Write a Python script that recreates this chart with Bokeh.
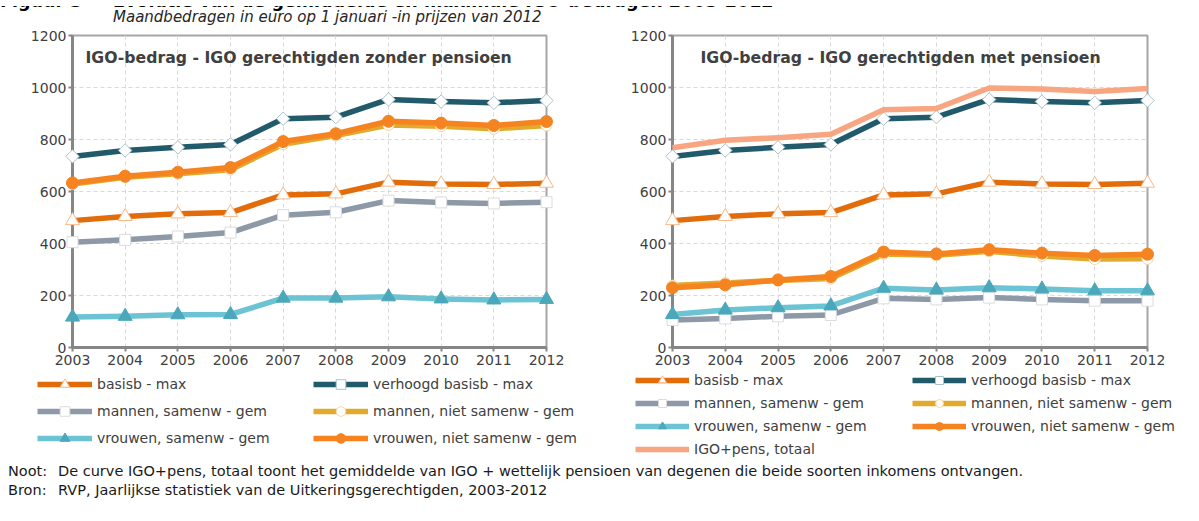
import math
from bokeh.plotting import figure
from bokeh.models import Legend, LegendItem, Label, Div, Range1d
from bokeh.layouts import column, row
from bokeh.embed import file_html
from bokeh.resources import INLINE

# ---------------- data ----------------
years = [2003, 2004, 2005, 2006, 2007, 2008, 2009, 2010, 2011, 2012]
y_ticks = [0, 200, 400, 600, 800, 1000, 1200]

basisb_max = [488, 504, 514, 519, 587, 591, 636, 629, 627, 632]
verhoogd_max = [735, 758, 770, 781, 880, 886, 954, 946, 941, 950]

# zonder pensioen
mannen_sam_z = [405, 414, 427, 442, 509, 520, 565, 558, 554, 559]
mannen_niet_z = [629, 655, 668, 684, 782, 815, 856, 851, 841, 854]
vrouwen_sam_z = [117, 120, 126, 127, 190, 190, 195, 187, 183, 185]
vrouwen_niet_z = [633, 659, 674, 692, 792, 822, 870, 863, 854, 869]

# met pensioen
mannen_sam_m = [106, 112, 120, 125, 189, 185, 192, 185, 180, 180]
mannen_niet_m = [238, 248, 258, 265, 360, 355, 370, 352, 340, 341]
vrouwen_sam_m = [127, 144, 153, 160, 228, 221, 230, 225, 218, 218]
vrouwen_niet_m = [230, 241, 260, 273, 367, 360, 376, 363, 354, 359]
igo_pens = [768, 797, 807, 820, 914, 919, 998, 994, 985, 996]

labels = ["basisb - max", "verhoogd basisb - max", "mannen, samenw - gem",
          "mannen, niet samenw - gem", "vrouwen, samenw - gem",
          "vrouwen, niet samenw - gem", "IGO+pens, totaal"]

fig_number = "Figuur 3"
fig_title = "Evolutie van de gemiddelde en maximale IGO-bedragen 2003-2012"
title_left = "IGO-bedrag - IGO gerechtigden zonder pensioen"
title_right = "IGO-bedrag - IGO gerechtigden met pensioen"
subtitle = "Maandbedragen in euro op 1 januari -in prijzen van 2012"
note_noot = "De curve IGO+pens, totaal toont het gemiddelde van IGO + wettelijk pensioen van degenen die beide soorten inkomens ontvangen."
note_bron = "RVP, Jaarlijkse statistiek van de Uitkeringsgerechtigden, 2003-2012"

# ---------------- styles ----------------
FONT = "DejaVu Sans"
TXT = "#404040"
STYLE = {
    "basisb - max": dict(line="#e36c0a", marker="triangle", size=14, angle=0, fill="#ffffff", outline="#f6b98a"),
    "verhoogd basisb - max": dict(line="#215a6a", marker="square", size=9.5, angle=math.pi / 4, fill="#ffffff", outline="#a9c3cc"),
    "mannen, samenw - gem": dict(line="#8d99a7", marker="square", size=11, angle=0, fill="#ffffff", outline="#dcdcdc"),
    "mannen, niet samenw - gem": dict(line="#e2aa2d", marker="circle", size=11, angle=0, fill="#ffffff", outline="#f3d9a0"),
    "vrouwen, samenw - gem": dict(line="#6cc3d3", marker="triangle", size=14, angle=0, fill="#4ba8bb", outline="#4ba8bb"),
    "vrouwen, niet samenw - gem": dict(line="#f58320", marker="circle", size=12, angle=0, fill="#f58320", outline="#f58320"),
    "IGO+pens, totaal": dict(line="#f8a582", marker=None),
}


def add_series(p, label, vals):
    st = STYLE[label]
    rs = [p.line(years, vals, line_color=st["line"], line_width=5.5, line_join="round", level="overlay")]
    if st["marker"] is not None:
        rs.append(p.scatter(years, vals, marker=st["marker"], size=st["size"], angle=st["angle"],
                            fill_color=st["fill"], line_color=st["outline"], line_width=1, level="overlay"))
    return rs


def make_chart(frame_w, mbl, mbr, title, title_x, series):
    p = figure(frame_width=frame_w, frame_height=312, x_range=Range1d(2003, 2012), y_range=Range1d(0, 1200),
               output_backend="svg", toolbar_location=None, title=None,
               min_border_left=mbl, min_border_right=mbr, min_border_top=7, min_border_bottom=24)
    p.background_fill_color = "white"
    p.border_fill_color = "white"
    p.outline_line_color = "#a6a6a6"
    p.outline_line_width = 2

    for g in (p.xgrid, p.ygrid):
        g.grid_line_color = "#d9d9d9"
        g.grid_line_dash = "4 3"
        g.grid_line_width = 1
    p.xgrid.ticker = years
    p.ygrid.ticker = y_ticks

    p.xaxis.ticker = years
    p.yaxis.ticker = y_ticks
    for ax in (p.xaxis[0], p.yaxis[0]):
        ax.axis_line_color = "#868686"
        ax.axis_line_width = 3
        ax.major_tick_line_color = "#868686"
        ax.major_tick_line_width = 2
        ax.major_tick_out = 4
        ax.major_tick_in = 0
        ax.minor_tick_line_color = None
        ax.major_label_text_font = FONT
        ax.major_label_text_font_size = "14px"
        ax.major_label_text_color = TXT
    p.xaxis.major_label_standoff = 3
    p.yaxis.major_label_standoff = 2

    for label, vals in series:
        add_series(p, label, vals)

    p.add_layout(Label(x=title_x, y=290, x_units="screen", y_units="screen", text=title,
                       text_font=FONT, text_font_size="15.7px", text_font_style="bold",
                       text_color=TXT, text_baseline="alphabetic"))
    return p


def make_legend_fig(width, height, series, leg):
    # legend panel: same series and styles, drawn outside the (unit) view so only the legend shows
    q = figure(width=width, height=height, x_range=Range1d(0, 1), y_range=Range1d(0, 1),
               x_axis_type=None, y_axis_type=None, output_backend="svg", toolbar_location=None,
               title=None, min_border=0)
    q.xgrid.visible = False
    q.ygrid.visible = False
    q.outline_line_color = None
    q.background_fill_color = "white"
    q.border_fill_color = "white"
    items = [LegendItem(label=label, renderers=add_series(q, label, vals)) for label, vals in series]
    legend = Legend(items=items, location=leg["loc"], orientation="horizontal", ncols=2,
                    glyph_width=leg["gw"], glyph_height=leg["gh"], spacing=3,
                    label_standoff=5, label_width=leg["lw"], padding=0, margin=0,
                    border_line_color=None, background_fill_alpha=0,
                    label_text_font=FONT, label_text_font_size="14px", label_text_color=TXT,
                    label_height=leg["gh"])
    q.add_layout(legend)
    return q


left_series = [(labels[0], basisb_max), (labels[1], verhoogd_max), (labels[2], mannen_sam_z),
               (labels[3], mannen_niet_z), (labels[4], vrouwen_sam_z), (labels[5], vrouwen_niet_z)]
right_series = [(labels[0], basisb_max), (labels[1], verhoogd_max), (labels[2], mannen_sam_m),
                (labels[3], mannen_niet_m), (labels[4], vrouwen_sam_m), (labels[5], vrouwen_niet_m),
                (labels[6], igo_pens)]

p1 = make_chart(474, 72, 54, title_left, 13, left_series)
p2 = make_chart(475, 72, 40, title_right, 28, right_series)

l1 = make_legend_fig(600, 91, left_series, dict(loc=(37, 12), gw=55, gh=24, lw=213))
l2 = make_legend_fig(587, 91, right_series, dict(loc=(35, 3), gw=54, gh=20, lw=215))

top = Div(text=('<div style="height:6px;overflow:hidden">'
                '<div style="margin-top:-14px;font-family:\'DejaVu Sans\';font-weight:bold;'
                'font-size:17.5px;line-height:19px;color:#000;white-space:nowrap">'
                '<span style="display:inline-block;width:113px">%s</span>%s</div></div>') % (fig_number, fig_title),
          width=1187, height=6, margin=0)

sub = Div(text=('<div style="padding-left:113px;font-family:\'DejaVu Sans\';font-style:italic;'
                'font-size:15px;line-height:22px;color:#262626;white-space:nowrap">%s</div>' % subtitle),
          width=1187, height=22, margin=0)

notes = Div(text=('<div style="padding-left:8px;font-family:\'DejaVu Sans\';font-size:14.5px;line-height:19px;'
                  'color:#1a1a1a;white-space:nowrap">'
                  '<span style="display:inline-block;width:50px">Noot:</span>%s<br>'
                  '<span style="display:inline-block;width:50px">Bron:</span>%s</div>') % (note_noot, note_bron),
            width=1187, height=42, margin=0)

layout = column(top, sub, row(p1, p2), row(l1, l2), notes)

open("out.html", "w").write(file_html(layout, INLINE))
